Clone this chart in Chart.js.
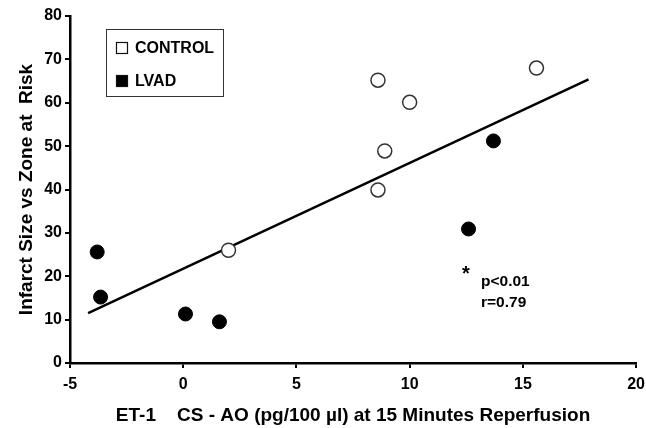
<!DOCTYPE html>
<html>
<head>
<meta charset="utf-8">
<script src="https://cdn.jsdelivr.net/npm/chart.js@4.4.1/dist/chart.umd.min.js"></script>
<style>
  html, body { margin: 0; padding: 0; background: #fff; }
  #wrap { width: 646px; height: 428px; }
</style>
</head>
<body>
<div id="wrap"><canvas id="chart" width="646" height="428"></canvas></div>
<script>
// Infarct size vs ET-1 gradient
const controlX = [2.0, 8.6, 8.9, 10.0, 8.6, 15.6];
const controlY = [26.0, 39.9, 48.9, 60.1, 65.2, 68.0];
const lvadX    = [-3.8, -3.65, 0.1, 1.6, 12.6, 13.7];
const lvadY    = [25.6, 15.2, 11.3, 9.5, 30.9, 51.2];
const fitX     = [-4.2, 17.9];
const fitY     = [11.5, 65.4];

const xTicks = [-5, 0, 5, 10, 15, 20];
const yTicks = [0, 10, 20, 30, 40, 50, 60, 70, 80];

const FONT = '"Liberation Sans", Arial, sans-serif';
const toPts = (xs, ys) => xs.map((x, i) => ({ x, y: ys[i] }));

// boxed legend inside the plot (squares, like the original)
const boxLegend = {
  id: 'boxLegend',
  afterDraw(chart) {
    const ctx = chart.ctx;
    ctx.save();
    ctx.strokeStyle = '#333';
    ctx.lineWidth = 1;
    ctx.strokeRect(106.5, 29.5, 117, 67);
    const rows = [chart.data.datasets[0], chart.data.datasets[1]];
    rows.forEach((ds, i) => {
      const cy = 48 + i * 33;
      ctx.fillStyle = ds.backgroundColor;
      ctx.fillRect(116, cy - 6, 12, 12);
      ctx.strokeStyle = '#111';
      ctx.lineWidth = 1.2;
      ctx.strokeRect(116.5, cy - 5.5, 11, 11);
      ctx.fillStyle = '#000';
      ctx.font = 'bold 16px ' + FONT;
      ctx.textBaseline = 'middle';
      ctx.fillText(ds.label, 135, cy + 1);
    });
    ctx.restore();
  }
};

// "* p<0.01 r=0.79" note
const statNote = {
  id: 'statNote',
  afterDraw(chart) {
    const ctx = chart.ctx;
    ctx.save();
    ctx.fillStyle = '#000';
    ctx.textBaseline = 'middle';
    ctx.font = 'bold 20px ' + FONT;
    ctx.fillText('*', 462, 274);
    ctx.font = 'bold 15.5px ' + FONT;
    ctx.fillText('p<0.01', 481, 282);
    ctx.fillText('r=0.79', 481, 303);
    ctx.restore();
  }
};

const axisCommon = {
  type: 'linear',
  grid: { display: true, drawOnChartArea: false, drawTicks: true, tickLength: 5, color: '#000', lineWidth: 2 },
  border: { display: true, color: '#000', width: 2.5 },
};

new Chart(document.getElementById('chart').getContext('2d'), {
  type: 'scatter',
  data: {
    datasets: [
      {
        label: 'CONTROL',
        data: toPts(controlX, controlY),
        backgroundColor: '#fff',
        borderColor: '#333',
        borderWidth: 1.5,
        pointRadius: 7,
        order: 1,
      },
      {
        label: 'LVAD',
        data: toPts(lvadX, lvadY),
        backgroundColor: '#000',
        borderColor: '#000',
        borderWidth: 1,
        pointRadius: 7,
        order: 1,
      },
      {
        type: 'line',
        label: 'fit',
        data: toPts(fitX, fitY),
        borderColor: '#000',
        borderWidth: 2.5,
        pointRadius: 0,
        fill: false,
        order: 3,
      },
    ],
  },
  options: {
    responsive: false,
    animation: false,
    layout: { padding: { top: 16, right: 0, left: 0, bottom: 0 } },
    plugins: { legend: { display: false }, tooltip: { enabled: false } },
    scales: {
      x: {
        ...axisCommon,
        min: -5, max: 20,
        afterBuildTicks: s => { s.ticks = xTicks.map(v => ({ value: v })); },
        // tall line box pushes the labels down without widening the right padding
        ticks: { color: '#000', font: { family: FONT, size: 16, weight: 'bold', lineHeight: 2.0 }, padding: 1 },
        title: {
          display: true,
          text: 'ET-1    CS - AO (pg/100 \u00b5l) at 15 Minutes Reperfusion',
          color: '#000',
          font: { family: FONT, size: 19, weight: 'bold' },
          padding: { top: 0, bottom: 1 },
        },
        afterFit: s => { s.height = 65; },
      },
      y: {
        ...axisCommon,
        min: 0, max: 80,
        afterBuildTicks: s => { s.ticks = yTicks.map(v => ({ value: v })); },
        ticks: { color: '#000', font: { family: FONT, size: 16, weight: 'bold' }, padding: 3 },
        title: {
          display: true,
          text: 'Infarct Size vs Zone at  Risk',
          color: '#000',
          font: { family: FONT, size: 19, weight: 'bold' },
          padding: { top: 15, bottom: 0 },
        },
        afterFit: s => { s.width = 70; },
      },
    },
  },
  plugins: [boxLegend, statNote],
});
</script>
</body>
</html>
